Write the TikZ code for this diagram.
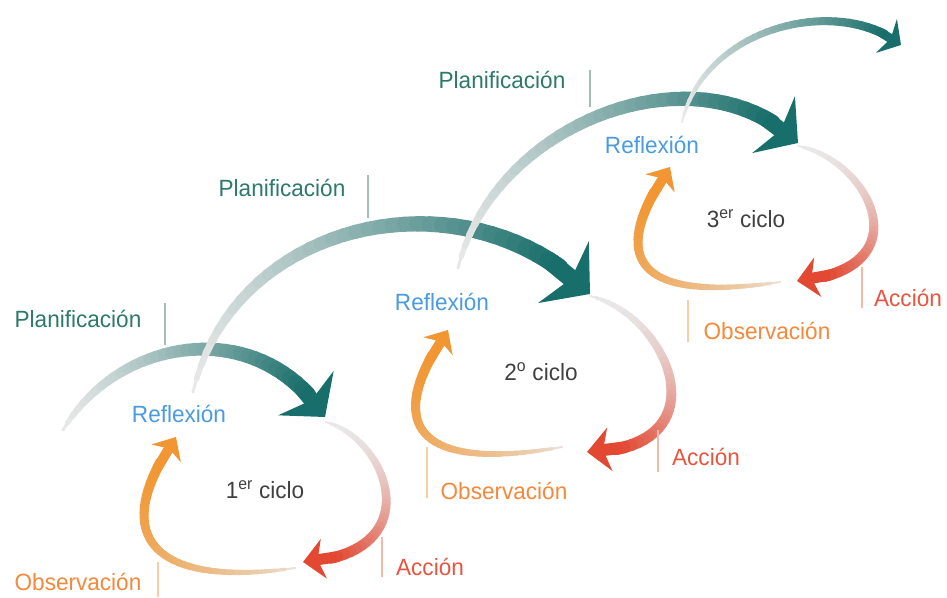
\documentclass[tikz,border=0pt]{standalone}
\usepackage{fontspec}
\setmainfont{Liberation Sans}[FakeStretch=0.96]
\usetikzlibrary{arrows.meta, calc}

\definecolor{verdeazul}{RGB}{24,110,106}
\definecolor{verdetexto}{RGB}{45,122,108}
\definecolor{azulrefl}{RGB}{74,155,224}
\definecolor{naranja}{RGB}{241,150,50}
\definecolor{naranjatexto}{RGB}{245,136,58}
\definecolor{rojo}{RGB}{226,72,50}
\definecolor{rojotexto}{RGB}{232,85,63}
\definecolor{grisciclo}{RGB}{64,64,64}
\definecolor{guiaverde}{RGB}{165,188,183}
\definecolor{guianaranja}{RGB}{250,205,165}
\definecolor{guiaroja}{RGB}{245,185,170}
\colorlet{tenue}{black!9}

\newcommand{\etiq}{\fontsize{23.5}{28}\selectfont}

% cinta con degradado: #1-#4 puntos de la curva, #5 color, #6 grosor inicial,
% #7 grosor final, #8 exponente del degradado, #9 anchura de la punta
\newcommand{\cinta}[9]{%
  \foreach \k in {0,...,35}{
    \pgfmathsetmacro{\ta}{0.92*\k/36}
    \pgfmathsetmacro{\tb}{0.92*(\k+1)/36}
    \pgfmathtruncatemacro{\mezcla}{100*((\k+0.5)/36)^#8}
    \pgfmathsetmacro{\grosor}{#6+(#7-#6)*sqrt(\k/35)}
    \path #1 .. controls #2 and #3 .. #4 coordinate[pos=\ta] (c1) coordinate[pos=\tb] (c2);
    \draw[line width=\grosor pt, color=#5!\mezcla!tenue, line cap=round] (c1) -- (c2);
  }
  \path #1 .. controls #2 and #3 .. #4 coordinate[pos=0.9] (c1);
  \draw[line width=#7pt, color=#5, -{Stealth[length=0pt 1.9, width=0pt #9, inset=0pt 0.55]}] (c1) -- #4;
}

\begin{document}
\begin{tikzpicture}[x=1pt, y=-1pt,
    plan/.style = {font=\etiq, text=verdetexto, inner sep=0pt},
    refl/.style = {font=\etiq, text=azulrefl, fill=white, inner sep=2pt},
    obs/.style = {font=\etiq, text=naranjatexto, inner sep=0pt},
    acc/.style = {font=\etiq, text=rojotexto, inner sep=0pt},
    ciclo/.style = {font=\etiq, text=grisciclo, inner sep=0pt},
    guia/.style = {line width=1.2pt}
    ]
  \useasboundingbox (0,0) rectangle (947,597);

  % --- Observación (naranja) ---
  \cinta{(295,568)}{(165,587)}{(101,545)}{(176,437)}{naranja}{2}{10}{0.5}{3.4}
  \cinta{(562,447)}{(435,470)}{(373,438)}{(448,330)}{naranja}{2}{10}{0.5}{3.4}
  \cinta{(780,282)}{(660,300)}{(595,275)}{(670,167)}{naranja}{2}{10}{0.5}{3.4}

  % --- Acción (rojo) ---
  \cinta{(326,422)}{(390,440)}{(430,555)}{(303,562)}{rojo}{2}{11}{2.0}{3.6}
  \cinta{(590,296)}{(670,315)}{(725,450)}{(587,452)}{rojo}{2}{12}{2.0}{3.6}
  \cinta{(798,146)}{(870,160)}{(925,270)}{(797,281)}{rojo}{2}{11}{2.0}{3.6}

  % --- Planificación (verde azulado) ---
  \cinta{(63,430)}{(120,335)}{(260,315)}{(325,417)}{verdeazul}{3}{16}{1.3}{4.4}
  \cinta{(193,392)}{(235,215)}{(470,170)}{(590,294)}{verdeazul}{3}{18}{1.3}{4.4}
  \cinta{(458,268)}{(495,120)}{(700,45)}{(798,143)}{verdeazul}{3}{16}{1.3}{4.4}
  \cinta{(682,122)}{(705,25)}{(840,-5)}{(901,45)}{verdeazul}{2}{9}{1.3}{4.4}

  % --- Etiquetas ---
  \node[plan] (plan1) at (78,319) {Planificación};
  \node[plan] (plan2) at (282,188) {Planificación};
  \node[plan] (plan3) at (502,80) {Planificación};

  \node[refl] (refl1) at (179,414) {Reflexión};
  \node[refl] (refl2) at (442,302) {Reflexión};
  \node[refl] (refl3) at (652,145) {Reflexión};

  \node[acc] (acc1) at (430,567) {Acción};
  \node[acc] (acc2) at (706,457) {Acción};
  \node[acc] (acc3) at (908,298) {Acción};

  \node[obs] (obs1) at (78,582) {Observación};
  \node[obs] (obs2) at (504,491) {Observación};
  \node[obs] (obs3) at (767,331) {Observación};

  \node[ciclo] (ciclo1) at (265,490) {1\textsuperscript{er} ciclo};
  \node[ciclo] (ciclo2) at (541,372) {2\textsuperscript{o} ciclo};
  \node[ciclo] (ciclo3) at (746,219) {3\textsuperscript{er} ciclo};

  % --- Líneas guía ---
  \draw[guia, guiaverde] ($(plan1.center)+(87,-16)$) -- ++(0,42);
  \draw[guia, guiaverde] ($(plan2.center)+(86,-13)$) -- ++(0,43);
  \draw[guia, guiaverde] ($(plan3.center)+(88,-10)$) -- ++(0,37);

  \draw[guia, guianaranja] ($(obs1.center)+(80,-20)$) -- ++(0,35);
  \draw[guia, guianaranja] ($(obs2.center)+(-77,-44)$) -- ++(0,51);
  \draw[guia, guianaranja] ($(obs3.center)+(-79,-31)$) -- ++(0,42);

  \draw[guia, guiaroja] ($(acc1.center)+(-48,-30)$) -- ++(0,40);
  \draw[guia, guiaroja] ($(acc2.center)+(-48,-27)$) -- ++(0,42);
  \draw[guia, guiaroja] ($(acc3.center)+(-46,-31)$) -- ++(0,41);

\end{tikzpicture}
\end{document}
